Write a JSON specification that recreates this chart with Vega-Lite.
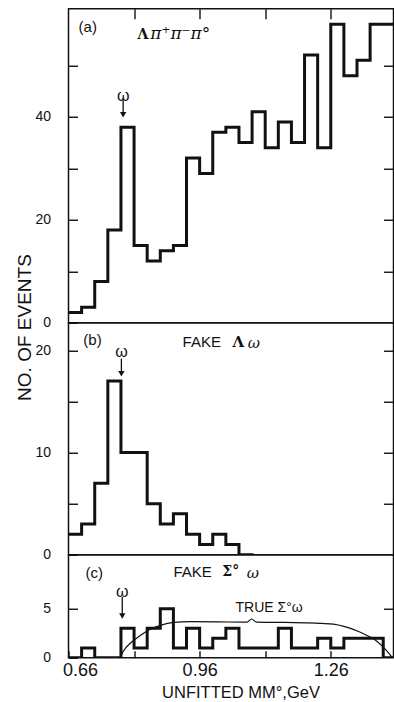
{
  "$schema": "https://vega.github.io/schema/vega-lite/v6.json",
  "background": "white",
  "padding": {"left": 14.5, "top": 6.75, "right": 0, "bottom": 0},
  "bounds": "flush",
  "spacing": 0,
  "config": {
    "view": {"stroke": "#111", "strokeWidth": 1.5},
    "axis": {
      "grid": false, "domain": false, "tickColor": "#111", "tickWidth": 1.4,
      "labelColor": "#111", "labelFont": "Liberation Sans", "labelOverlap": false,
      "titleFont": "Liberation Sans", "titleColor": "#111", "titleFontWeight": "normal"
    },
    "text": {"color": "#111"}
  },
  "datasets": {
    "lambdaPiPiPi": [
      {"lo": 0.66, "hi": 0.69, "n": 2}, {"lo": 0.69, "hi": 0.72, "n": 3},
      {"lo": 0.72, "hi": 0.75, "n": 8}, {"lo": 0.75, "hi": 0.78, "n": 18},
      {"lo": 0.78, "hi": 0.81, "n": 38}, {"lo": 0.81, "hi": 0.84, "n": 15},
      {"lo": 0.84, "hi": 0.87, "n": 12}, {"lo": 0.87, "hi": 0.90, "n": 14},
      {"lo": 0.90, "hi": 0.93, "n": 15}, {"lo": 0.93, "hi": 0.96, "n": 32},
      {"lo": 0.96, "hi": 0.99, "n": 29}, {"lo": 0.99, "hi": 1.02, "n": 37},
      {"lo": 1.02, "hi": 1.05, "n": 38}, {"lo": 1.05, "hi": 1.08, "n": 35},
      {"lo": 1.08, "hi": 1.11, "n": 41}, {"lo": 1.11, "hi": 1.14, "n": 34},
      {"lo": 1.14, "hi": 1.17, "n": 39}, {"lo": 1.17, "hi": 1.20, "n": 35},
      {"lo": 1.20, "hi": 1.23, "n": 52}, {"lo": 1.23, "hi": 1.26, "n": 34},
      {"lo": 1.26, "hi": 1.29, "n": 58}, {"lo": 1.29, "hi": 1.32, "n": 48},
      {"lo": 1.32, "hi": 1.35, "n": 51}, {"lo": 1.35, "hi": 1.38, "n": 58},
      {"lo": 1.38, "hi": 1.41, "n": 58}
    ],
    "fakeLambdaOmega": [
      {"lo": 0.66, "hi": 0.69, "n": 2}, {"lo": 0.69, "hi": 0.72, "n": 3},
      {"lo": 0.72, "hi": 0.75, "n": 7}, {"lo": 0.75, "hi": 0.78, "n": 17},
      {"lo": 0.78, "hi": 0.81, "n": 10}, {"lo": 0.81, "hi": 0.84, "n": 10},
      {"lo": 0.84, "hi": 0.87, "n": 5}, {"lo": 0.87, "hi": 0.90, "n": 3},
      {"lo": 0.90, "hi": 0.93, "n": 4}, {"lo": 0.93, "hi": 0.96, "n": 2},
      {"lo": 0.96, "hi": 0.99, "n": 1}, {"lo": 0.99, "hi": 1.02, "n": 2},
      {"lo": 1.02, "hi": 1.05, "n": 1}, {"lo": 1.05, "hi": 1.08, "n": 0}
    ],
    "fakeSigmaOmega": [
      {"lo": 0.66, "hi": 0.69, "n": 0}, {"lo": 0.69, "hi": 0.72, "n": 1},
      {"lo": 0.72, "hi": 0.75, "n": 0}, {"lo": 0.75, "hi": 0.78, "n": 0},
      {"lo": 0.78, "hi": 0.81, "n": 3}, {"lo": 0.81, "hi": 0.84, "n": 1},
      {"lo": 0.84, "hi": 0.87, "n": 3}, {"lo": 0.87, "hi": 0.90, "n": 5},
      {"lo": 0.90, "hi": 0.93, "n": 1}, {"lo": 0.93, "hi": 0.96, "n": 3},
      {"lo": 0.96, "hi": 0.99, "n": 1}, {"lo": 0.99, "hi": 1.02, "n": 2},
      {"lo": 1.02, "hi": 1.05, "n": 3}, {"lo": 1.05, "hi": 1.08, "n": 1},
      {"lo": 1.08, "hi": 1.11, "n": 1}, {"lo": 1.11, "hi": 1.14, "n": 1},
      {"lo": 1.14, "hi": 1.17, "n": 3}, {"lo": 1.17, "hi": 1.20, "n": 1},
      {"lo": 1.20, "hi": 1.23, "n": 1}, {"lo": 1.23, "hi": 1.26, "n": 2},
      {"lo": 1.26, "hi": 1.29, "n": 1}, {"lo": 1.29, "hi": 1.32, "n": 2},
      {"lo": 1.32, "hi": 1.35, "n": 2}, {"lo": 1.35, "hi": 1.38, "n": 2},
      {"lo": 1.38, "hi": 1.41, "n": 0}
    ],
    "trueSigmaOmega": [
      {"mass": 0.779, "n": 0}, {"mass": 0.784, "n": 0.55}, {"mass": 0.79, "n": 0.95},
      {"mass": 0.802, "n": 1.5}, {"mass": 0.825, "n": 2.3}, {"mass": 0.847, "n": 2.9},
      {"mass": 0.870, "n": 3.3}, {"mass": 0.901, "n": 3.6}, {"mass": 0.94, "n": 3.68},
      {"mass": 1.0, "n": 3.66}, {"mass": 1.068, "n": 3.63}, {"mass": 1.079, "n": 3.95},
      {"mass": 1.09, "n": 3.63}, {"mass": 1.15, "n": 3.6}, {"mass": 1.20, "n": 3.56},
      {"mass": 1.24, "n": 3.5}, {"mass": 1.266, "n": 3.42}, {"mass": 1.29, "n": 3.2},
      {"mass": 1.305, "n": 3.0}, {"mass": 1.325, "n": 2.65}, {"mass": 1.344, "n": 2.25},
      {"mass": 1.36, "n": 1.85}, {"mass": 1.374, "n": 1.35}, {"mass": 1.385, "n": 0.85},
      {"mass": 1.395, "n": 0.35}, {"mass": 1.401, "n": 0}
    ]
  },
  "vconcat": [
    {
      "width": 325,
      "height": 314,
      "encoding": {
        "x": {"field": "mass", "type": "quantitative", "scale": {"domain": [0.66, 1.4035], "nice": false, "zero": false},
              "axis": {"orient": "top", "values": [0.81, 0.96, 1.11, 1.26], "labels": false, "tickSize": -10, "title": null}}
      },
      "layer": [
        {
          "data": {"name": "lambdaPiPiPi"},
          "transform": [{"fold": ["lo", "hi"], "as": ["edge", "mass"]}],
          "mark": {"type": "line", "color": "#111", "strokeWidth": 3, "strokeJoin": "miter", "strokeCap": "square", "clip": true},
          "encoding": {
            "y": {"field": "n", "type": "quantitative", "scale": {"domain": [0, 61], "nice": false},
                  "axis": {"orient": "left", "values": [0, 10, 20, 30, 40, 50], "labelExpr": "datum.value % 20 === 0 ? datum.label : ''",
                           "tickSize": -9, "labelPadding": 27, "labelFontSize": 14, "title": null}},
            "order": [{"field": "mass", "type": "quantitative"}, {"field": "edge", "type": "nominal"}]
          }
        },
        {
          "data": {"values": [{"mass": 0.785, "top": 43.6, "head": 40.4}]},
          "mark": {"type": "rule", "color": "#111", "strokeWidth": 1.3},
          "encoding": {
            "y": {"field": "top", "type": "quantitative", "scale": {"domain": [0, 61], "nice": false},
                  "axis": {"orient": "right", "values": [10, 20, 30, 40, 50], "labels": false, "tickSize": -10, "title": null}},
            "y2": {"field": "head"}
          }
        },
        {
          "data": {"values": [{"mass": 0.785, "head": 40.4}]},
          "mark": {"type": "point", "shape": "triangle-down", "filled": true, "size": 40, "color": "#111", "opacity": 1},
          "encoding": {
            "y": {"field": "head", "type": "quantitative", "scale": {"domain": [0, 61], "nice": false}, "axis": null}
          }
        },
        {
          "data": {"values": [{"mass": 0.785, "n": 44.1, "label": "ω"}]},
          "mark": {"type": "text", "font": "Liberation Sans", "fontSize": 16, "align": "center", "baseline": "middle"},
          "encoding": {
            "y": {"field": "n", "type": "quantitative", "scale": {"domain": [0, 61], "nice": false}, "axis": null},
            "text": {"field": "label"}
          }
        },
        {
          "data": {"values": [{"mass": 0.683, "n": 57.5, "label": "(a)"}]},
          "mark": {"type": "text", "font": "Liberation Sans", "fontSize": 15, "align": "left", "baseline": "middle"},
          "encoding": {
            "y": {"field": "n", "type": "quantitative", "scale": {"domain": [0, 61], "nice": false}, "axis": null},
            "text": {"field": "label"}
          }
        },
        {
          "data": {"values": [{"mass": 0.818, "n": 55.9, "label": "Λ"}]},
          "mark": {"type": "text", "font": "DejaVu Serif", "fontWeight": "bold", "fontSize": 14, "align": "left", "baseline": "middle"},
          "encoding": {
            "y": {"field": "n", "type": "quantitative", "scale": {"domain": [0, 61], "nice": false}, "axis": null},
            "text": {"field": "label"}
          }
        },
        {
          "data": {"values": [{"mass": 0.847, "n": 56.0, "label": "π⁺π⁻π°"}]},
          "mark": {"type": "text", "font": "DejaVu Serif", "fontStyle": "italic", "fontSize": 17, "align": "left", "baseline": "middle"},
          "encoding": {
            "y": {"field": "n", "type": "quantitative", "scale": {"domain": [0, 61], "nice": false}, "axis": null},
            "text": {"field": "label"}
          }
        }
      ],
      "resolve": {"axis": {"y": "independent"}}
    },
    {
      "width": 325,
      "height": 232,
      "encoding": {
        "x": {"field": "mass", "type": "quantitative", "scale": {"domain": [0.66, 1.4035], "nice": false, "zero": false}, "axis": null}
      },
      "layer": [
        {
          "data": {"name": "fakeLambdaOmega"},
          "transform": [{"fold": ["lo", "hi"], "as": ["edge", "mass"]}],
          "mark": {"type": "line", "color": "#111", "strokeWidth": 3, "strokeJoin": "miter", "strokeCap": "square", "clip": true},
          "encoding": {
            "y": {"field": "n", "type": "quantitative", "scale": {"domain": [0, 22.7], "nice": false},
                  "axis": {"orient": "left", "values": [0, 5, 10, 15, 20], "labelExpr": "datum.value % 10 === 0 ? datum.label : ''",
                           "tickSize": -9, "labelPadding": 27, "labelFontSize": 14,
                           "title": "NO. OF EVENTS", "titleFontSize": 19, "titleAngle": 270, "titleAlign": "center",
                           "titleBaseline": "middle", "titleX": -44, "titleY": 4.3}},
            "order": [{"field": "mass", "type": "quantitative"}, {"field": "edge", "type": "nominal"}]
          }
        },
        {
          "data": {"values": [{"mass": 0.781, "top": 19.2, "head": 17.7}]},
          "mark": {"type": "rule", "color": "#111", "strokeWidth": 1.3},
          "encoding": {
            "y": {"field": "top", "type": "quantitative", "scale": {"domain": [0, 22.7], "nice": false},
                  "axis": {"orient": "right", "values": [5, 10, 15, 20], "labels": false, "tickSize": -10, "title": null}},
            "y2": {"field": "head"}
          }
        },
        {
          "data": {"values": [{"mass": 0.781, "head": 17.7}]},
          "mark": {"type": "point", "shape": "triangle-down", "filled": true, "size": 40, "color": "#111", "opacity": 1},
          "encoding": {
            "y": {"field": "head", "type": "quantitative", "scale": {"domain": [0, 22.7], "nice": false}, "axis": null}
          }
        },
        {
          "data": {"values": [{"mass": 0.781, "n": 19.8, "label": "ω"}]},
          "mark": {"type": "text", "font": "Liberation Sans", "fontSize": 16, "align": "center", "baseline": "middle"},
          "encoding": {
            "y": {"field": "n", "type": "quantitative", "scale": {"domain": [0, 22.7], "nice": false}, "axis": null},
            "text": {"field": "label"}
          }
        },
        {
          "data": {"values": [{"mass": 0.694, "n": 21.0, "label": "(b)"}, {"mass": 0.921, "n": 20.8, "label": "FAKE"}]},
          "mark": {"type": "text", "font": "Liberation Sans", "fontSize": 15, "align": "left", "baseline": "middle"},
          "encoding": {
            "y": {"field": "n", "type": "quantitative", "scale": {"domain": [0, 22.7], "nice": false}, "axis": null},
            "text": {"field": "label"}
          }
        },
        {
          "data": {"values": [{"mass": 1.035, "n": 20.8, "label": "Λ"}]},
          "mark": {"type": "text", "font": "DejaVu Serif", "fontWeight": "bold", "fontSize": 15, "align": "left", "baseline": "middle"},
          "encoding": {
            "y": {"field": "n", "type": "quantitative", "scale": {"domain": [0, 22.7], "nice": false}, "axis": null},
            "text": {"field": "label"}
          }
        },
        {
          "data": {"values": [{"mass": 1.07, "n": 20.7, "label": "ω"}]},
          "mark": {"type": "text", "font": "DejaVu Serif", "fontStyle": "italic", "fontSize": 15, "align": "left", "baseline": "middle"},
          "encoding": {
            "y": {"field": "n", "type": "quantitative", "scale": {"domain": [0, 22.7], "nice": false}, "axis": null},
            "text": {"field": "label"}
          }
        }
      ],
      "resolve": {"axis": {"y": "independent"}}
    },
    {
      "width": 325,
      "height": 103,
      "encoding": {
        "x": {"field": "mass", "type": "quantitative", "scale": {"domain": [0.66, 1.4035], "nice": false, "zero": false},
              "axis": {"orient": "bottom", "values": [0.66, 0.81, 0.96, 1.11, 1.26], "format": ".2f",
                       "labelExpr": "indexof(['0.66','0.96','1.26'], datum.label) >= 0 ? datum.label : ''",
                       "labelFlush": true, "labelFlushOffset": 6, "labelFontSize": 18, "tickSize": -7, "labelPadding": 11,
                       "title": "UNFITTED MM°,GeV", "titleFontSize": 16.5, "titleX": 172, "titleY": 39.5,
                       "titleAlign": "center", "titleBaseline": "alphabetic"}}
      },
      "layer": [
        {
          "data": {"name": "fakeSigmaOmega"},
          "transform": [{"fold": ["lo", "hi"], "as": ["edge", "mass"]}],
          "mark": {"type": "line", "color": "#111", "strokeWidth": 3, "strokeJoin": "miter", "strokeCap": "square", "clip": true},
          "encoding": {
            "y": {"field": "n", "type": "quantitative", "scale": {"domain": [0, 10.5], "nice": false},
                  "axis": {"orient": "left", "values": [0, 5], "tickSize": -9, "labelPadding": 27, "labelFontSize": 14, "title": null}},
            "order": [{"field": "mass", "type": "quantitative"}, {"field": "edge", "type": "nominal"}]
          }
        },
        {
          "data": {"name": "trueSigmaOmega"},
          "mark": {"type": "line", "color": "#111", "strokeWidth": 1.2, "interpolate": "monotone"},
          "encoding": {
            "y": {"field": "n", "type": "quantitative", "scale": {"domain": [0, 10.5], "nice": false}, "axis": null}
          }
        },
        {
          "data": {"values": [{"mass": 0.783, "top": 6.22, "head": 4.26}]},
          "mark": {"type": "rule", "color": "#111", "strokeWidth": 1.3},
          "encoding": {
            "y": {"field": "top", "type": "quantitative", "scale": {"domain": [0, 10.5], "nice": false},
                  "axis": {"orient": "right", "values": [5], "labels": false, "tickSize": -10, "title": null}},
            "y2": {"field": "head"}
          }
        },
        {
          "data": {"values": [{"mass": 0.783, "head": 4.26}]},
          "mark": {"type": "point", "shape": "triangle-down", "filled": true, "size": 40, "color": "#111", "opacity": 1},
          "encoding": {
            "y": {"field": "head", "type": "quantitative", "scale": {"domain": [0, 10.5], "nice": false}, "axis": null}
          }
        },
        {
          "data": {"values": [{"mass": 0.783, "n": 6.73, "label": "ω"}]},
          "mark": {"type": "text", "font": "Liberation Sans", "fontSize": 16, "align": "center", "baseline": "middle"},
          "encoding": {
            "y": {"field": "n", "type": "quantitative", "scale": {"domain": [0, 10.5], "nice": false}, "axis": null},
            "text": {"field": "label"}
          }
        },
        {
          "data": {"values": [{"mass": 1.119, "n": 5.03, "label": "TRUE Σ°ω"}]},
          "mark": {"type": "text", "font": "Liberation Sans", "fontSize": 14, "align": "center", "baseline": "middle"},
          "encoding": {
            "y": {"field": "n", "type": "quantitative", "scale": {"domain": [0, 10.5], "nice": false}, "axis": null},
            "text": {"field": "label"}
          }
        },
        {
          "data": {"values": [{"mass": 0.699, "n": 8.6, "label": "(c)"}, {"mass": 0.900, "n": 8.75, "label": "FAKE"}]},
          "mark": {"type": "text", "font": "Liberation Sans", "fontSize": 15, "align": "left", "baseline": "middle"},
          "encoding": {
            "y": {"field": "n", "type": "quantitative", "scale": {"domain": [0, 10.5], "nice": false}, "axis": null},
            "text": {"field": "label"}
          }
        },
        {
          "data": {"values": [{"mass": 1.012, "n": 8.75, "label": "Σ°"}]},
          "mark": {"type": "text", "font": "DejaVu Serif", "fontWeight": "bold", "fontSize": 14, "align": "left", "baseline": "middle"},
          "encoding": {
            "y": {"field": "n", "type": "quantitative", "scale": {"domain": [0, 10.5], "nice": false}, "axis": null},
            "text": {"field": "label"}
          }
        },
        {
          "data": {"values": [{"mass": 1.068, "n": 8.6, "label": "ω"}]},
          "mark": {"type": "text", "font": "DejaVu Serif", "fontStyle": "italic", "fontSize": 15, "align": "left", "baseline": "middle"},
          "encoding": {
            "y": {"field": "n", "type": "quantitative", "scale": {"domain": [0, 10.5], "nice": false}, "axis": null},
            "text": {"field": "label"}
          }
        }
      ],
      "resolve": {"axis": {"y": "independent"}}
    }
  ]
}
